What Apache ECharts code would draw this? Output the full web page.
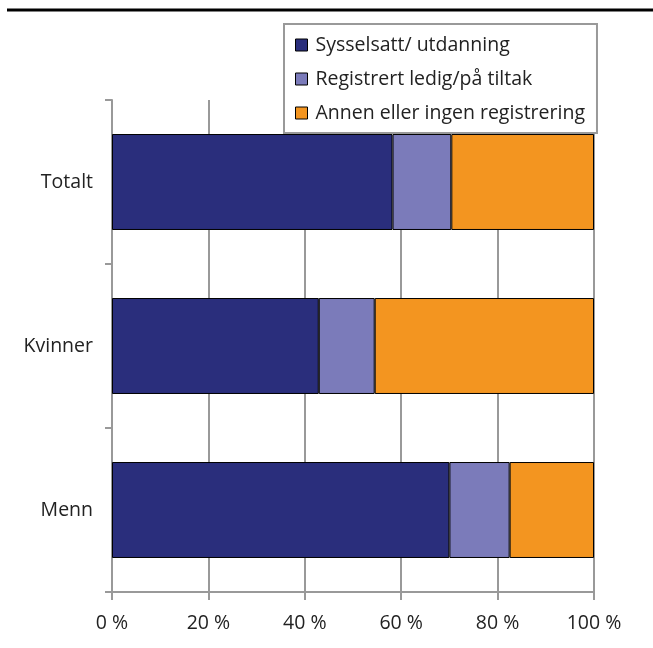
<!DOCTYPE html>
<html>
<head>
<meta charset="utf-8">
<script src="https://cdn.jsdelivr.net/npm/echarts@6/dist/echarts.min.js"></script>
<style>html,body{margin:0;padding:0;background:#fff;}#c{width:653px;height:648px;}</style>
</head>
<body>
<div id="c"></div>
<script>
const categories = ['Menn', 'Kvinner', 'Totalt'];
const seriesNames = ['Sysselsatt/ utdanning', 'Registrert ledig/på tiltak', 'Annen eller ingen registrering'];
const sysselsatt = [70.0, 42.9, 58.2];
const ledig = [12.5, 11.6, 12.2];
const annen = [17.5, 45.5, 29.6];
const colors = ['#2A2E7C', '#7B7BBA', '#F39520'];
const FONT = 'Open Sans';
const FS = 19.5;

const chart = echarts.init(document.getElementById('c'), null, {renderer: 'canvas'});
const values = [sysselsatt, ledig, annen];
chart.setOption({
  animation: false,
  textStyle: {fontFamily: FONT},
  graphic: [{
    type: 'line', shape: {x1: 7, y1: 10, x2: 653, y2: 10},
    style: {stroke: '#000', lineWidth: 3}
  }],
  legend: {
    orient: 'vertical',
    left: 284, top: 24,
    padding: [11, 12, 10, 11],
    itemGap: 14,
    itemWidth: 12, itemHeight: 12,
    backgroundColor: '#fff',
    borderColor: '#999', borderWidth: 2,
    icon: 'rect',
    z: 10,
    textStyle: {fontFamily: FONT, fontSize: FS, color: '#222', padding: [0, 0, 0, 3]},
    data: seriesNames.map((n, i) => ({name: n, itemStyle: {color: colors[i], borderColor: '#000', borderWidth: 1}}))
  },
  grid: {left: 112, right: 59, top: 100, bottom: 56, containLabel: false},
  xAxis: {
    type: 'value', min: 0, max: 100, interval: 20,
    axisLine: {show: true, lineStyle: {color: '#999', width: 2}},
    axisTick: {show: true, length: 8, lineStyle: {color: '#999', width: 2}},
    splitLine: {show: true, lineStyle: {color: '#999', width: 2}},
    axisLabel: {formatter: '{value} %', fontSize: FS, color: '#222', margin: 21, fontFamily: FONT}
  },
  yAxis: {
    type: 'category', data: categories,
    axisLine: {show: true, lineStyle: {color: '#999', width: 2}},
    axisTick: {show: true, length: 7, lineStyle: {color: '#999', width: 2}},
    axisLabel: {fontSize: FS, color: '#222', margin: 19, fontFamily: FONT}
  },
  series: seriesNames.map((n, i) => ({
    name: n, type: 'bar', stack: 'total',
    barCategoryGap: '41.5%',
    data: values[i],
    itemStyle: {color: colors[i], borderColor: '#000', borderWidth: 1}
  }))
});
</script>
</body>
</html>
